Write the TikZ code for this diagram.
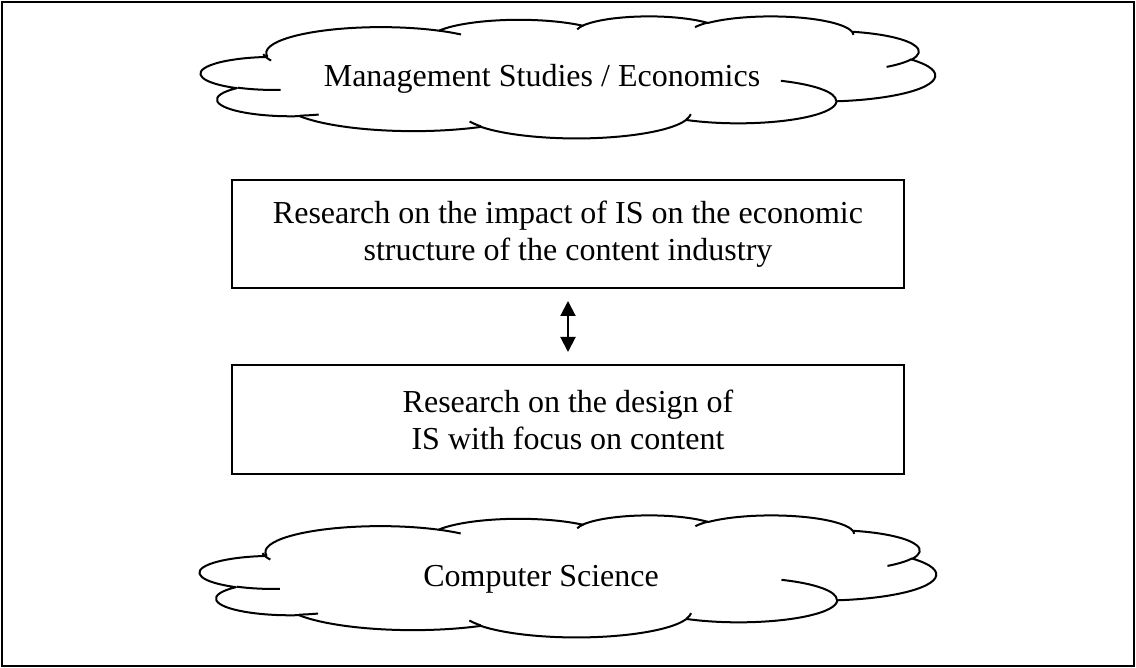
\documentclass[tikz,border=0pt]{standalone}
\usepackage{fontspec}
\setmainfont{Liberation Serif}
\usetikzlibrary{arrows.meta}
\newcommand\cloudang[4]{%
  \pgfmathparse{atan2((#1)*sin(#3),(#2)*cos(#3))}\xdef\cta{\pgfmathresult}%
  \pgfmathparse{atan2((#1)*sin((#3)+(#4)),(#2)*cos((#3)+(#4)))}\xdef\ctb{\pgfmathresult}%
  \pgfmathparse{\cta+mod(\ctb-\cta+720,360)}\xdef\ctc{\pgfmathresult}%
}
\newcommand\drawcloud[4]{%
\begin{scope}[shift={(#1,#2)}, xscale=#3/43.2, yscale=#4/43.2]
  \draw[cloudline] (3.9,14.37)
    \foreach \w/\h/\s/\d in {6.753/9.19/-190.4875/123.7805, 5.333/7.267/-144.1024/89.9452,
      4.365/5.945/-145.8079/99.7230, 4.857/6.595/-130.9861/117.2417,
      5.333/7.273/-78.7089/109.0269, 6.775/9.22/-46.2673/130.2690,
      5.785/7.867/0.6250/114.0333, 6.752/9.215/22.4516/115.1726,
      7.72/10.543/66.2426/75.7110, 4.36/5.918/-274.9421/146.7356,
      4.345/5.945/-246.8285/152.5189}
    { \pgfextra{\cloudang{\w}{\h}{\s}{\d}}
      arc[start angle=\cta, end angle=\ctc, x radius=\w, y radius=\h] } -- cycle;
  \foreach \x/\y/\w/\h/\s/\d in {4.693/26.177/4.345/5.945/86.7420/26.4295,
      6.928/34.899/4.36/5.918/73.6105/11.4475,
      16.478/39.09/6.752/9.215/137.6242/14.0811,
      28.827/34.751/6.752/9.215/6.4533/15.9984,
      34.129/22.954/5.785/7.867/-70.2924/70.9174,
      41.798/15.354/5.333/7.273/30.3180/27.7515,
      38.324/5.426/4.857/6.595/-13.7443/14.8589,
      29.078/3.952/4.857/6.595/-149.1815/18.1954,
      22.141/4.72/4.365/5.945/-163.4943/17.6864,
      14.0/5.192/6.753/9.19/-66.7070/12.3194,
      4.127/15.789/6.753/9.19/150/18.7873}
    { \cloudang{\w}{\h}{\s}{\d}
      \draw[cloudline] (\x,\y) arc[start angle=\cta, end angle=\ctc, x radius=\w, y radius=\h]; }
\end{scope}}
\begin{document}
\begin{tikzpicture}[x=1pt,y=-1pt,
  frame/.style={draw, line width=2pt},
  boxnode/.style={draw, line width=2pt, minimum width=672pt, inner sep=0pt,
    align=center, font=\fontsize{32}{37}\selectfont},
  cloudline/.style={line width=2pt, line join=round},
  cloudtext/.style={font=\fontsize{32}{37}\selectfont, inner sep=0pt, anchor=base},
  dblarrow/.style={line width=2pt, {Triangle[length=15pt,width=15pt]}-{Triangle[length=15pt,width=15pt]},
    shorten <=12pt, shorten >=12pt}]
\useasboundingbox (0,0) rectangle (1136,668);
\draw[frame] (2,2) rectangle (1134,666);
\drawcloud{201}{16}{734}{122}
\drawcloud{200}{515}{736}{122}
\node[cloudtext] (mgmt) at (542,87) {Management Studies / Economics};
\node[cloudtext] (cs) at (541,586) {Computer Science};
\node[boxnode, minimum height=108pt] (b1) at (568,234) {Research on the impact of IS on the economic\\structure of the content industry};
\node[boxnode, minimum height=109pt] (b2) at (568,419.5) {Research on the design of\\IS with focus on content};
\draw[dblarrow] (b1.south) -- (b2.north);
\end{tikzpicture}
\end{document}
